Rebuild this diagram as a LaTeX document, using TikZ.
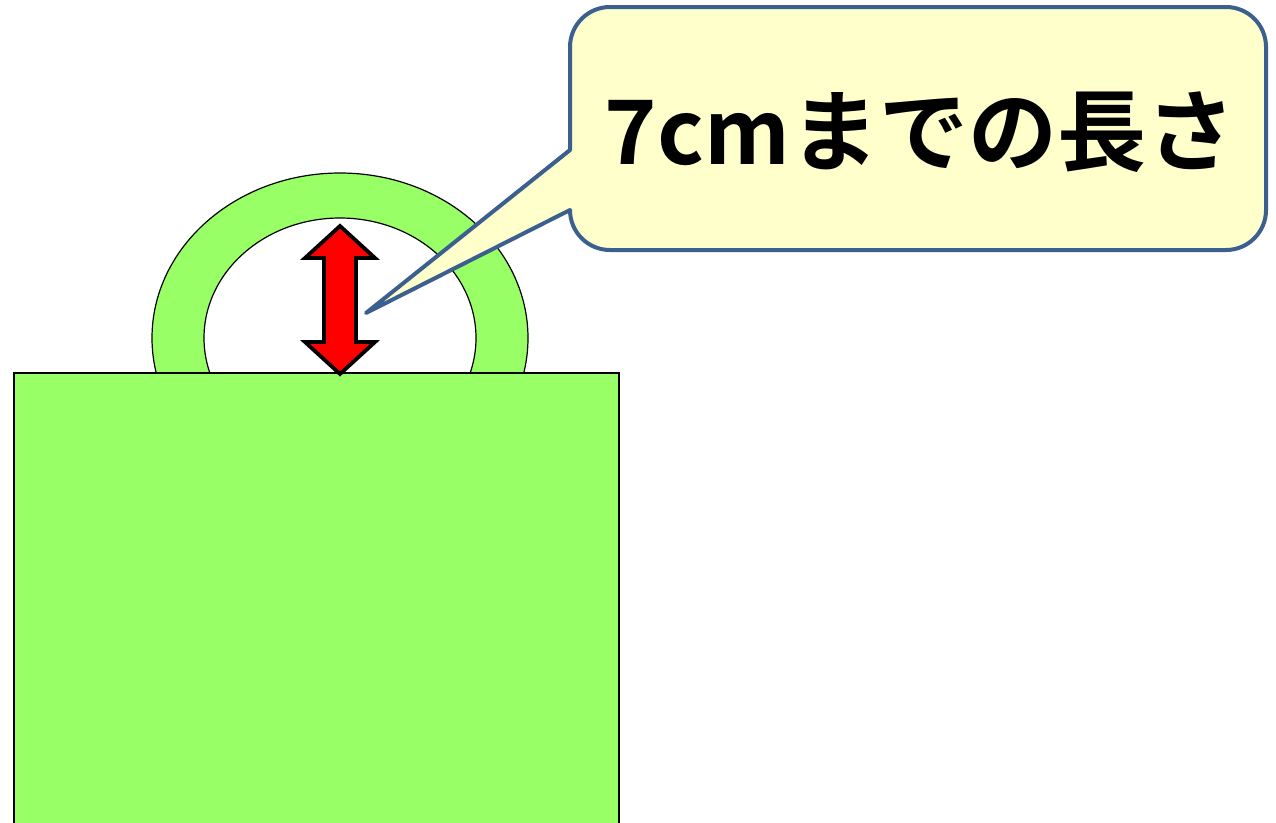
\documentclass[tikz,border=0pt]{standalone}
\usepackage{fontspec}
\newfontfamily\cjk{Noto Sans CJK JP}[BoldFont={Noto Sans CJK JP Bold}]
\definecolor{baggreen}{HTML}{99FF66}
\definecolor{calloutfill}{HTML}{FFFFCC}
\definecolor{calloutline}{HTML}{3B5F8E}
\definecolor{arrowred}{HTML}{FF0000}
\tikzset{
  greenpart/.style={fill=baggreen, draw=black, line width=1.2pt},
  holepart/.style={fill=white, draw=black, line width=1.2pt},
  bigarrow/.style={fill=arrowred, draw=black, line width=3.8pt, line join=miter},
  callout/.style={fill=calloutfill, draw=calloutline, line width=4pt, line join=round},
  labeltext/.style={font=\cjk\bfseries\fontsize{89}{100}\selectfont, text=black, inner sep=0pt}
}
\begin{document}
\begin{tikzpicture}[x=1pt,y=-1pt]
\useasboundingbox (0,0) rectangle (1276,822);
% handle
\path[greenpart] (340,338) ellipse[x radius=188pt, y radius=165pt];
\path[holepart] (340,338) ellipse[x radius=136pt, y radius=120pt];
% bag body
\path[greenpart] (14,373) rectangle (619,830);
% double arrow
\path[bigarrow] (340,226) -- (375,258) -- (356,258) -- (356,342) -- (375,342) -- (340,374)
  -- (305,342) -- (324,342) -- (324,258) -- (305,258) -- cycle;
% callout
\coordinate (tip) at (366,313);
\path[callout] (570,210) arc[start angle=180, end angle=270, radius=40pt]
  -- (1226,250) arc[start angle=270, end angle=360, radius=40pt]
  -- (1266,47) arc[start angle=0, end angle=90, radius=40pt]
  -- (610,7) arc[start angle=90, end angle=180, radius=40pt]
  -- (570,150) -- (tip) -- cycle;
\node[labeltext] (label) at (920,132) {7cmまでの長さ};
\end{tikzpicture}
\end{document}
